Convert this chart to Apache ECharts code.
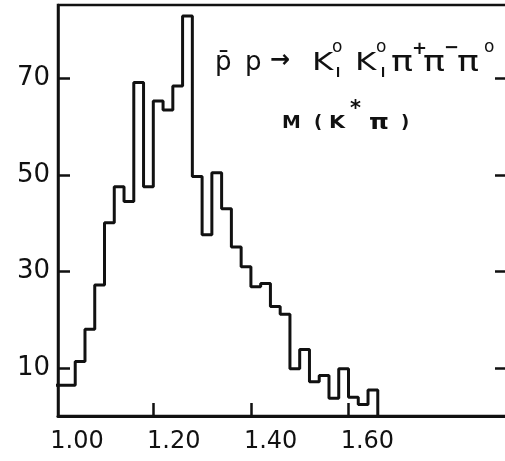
<!DOCTYPE html>
<html><head><meta charset="utf-8">
<script src="https://cdn.jsdelivr.net/npm/echarts@6/dist/echarts.min.js"></script>
<style>html,body{margin:0;padding:0;background:#fff}#c{width:505px;height:461px}</style>
</head><body><div id="c"></div>
<script>
// Histogram of M(K*pi), bins of 0.02 GeV starting at 1.00
const binStart = 1.00;
const binWidth = 0.02;
const counts = [6.4, 6.4, 11.3, 18.0, 27.2, 40.1, 47.6, 44.5, 69.2, 47.6,
  65.4, 63.5, 68.5, 83.0, 49.7, 37.6, 50.5, 43.0, 35.1, 31.0,
  26.8, 27.5, 22.7, 21.1, 9.8, 13.8, 7.1, 8.4, 3.7, 9.8,
  3.9, 2.4, 5.4];
const xTickValues = [1.20, 1.40, 1.60];
const xLabelValues = [1.00, 1.20, 1.40, 1.60];
const yTickValues = [10, 30, 50, 70];

const pts = counts.map((c, i) => [binStart + i * binWidth, c]);
pts.push([binStart + counts.length * binWidth, 0]);

const ink = '#111';
const FONT = '"DejaVu Sans", sans-serif';
function t(text, x, y, size, sx, weight) {
  return { type: 'text', x: x, y: y, scaleX: sx || 1, silent: true,
    style: { text: text, fill: ink, font: (weight || 'normal') + ' ' + size + 'px ' + FONT, verticalAlign: 'middle', align: 'left' } };
}

const chart = echarts.init(document.getElementById('c'), null, { renderer: 'canvas' });
chart.setOption({
  animation: false,
  backgroundColor: '#fff',
  grid: { left: 58, right: -2, top: 5, bottom: 45, show: true, borderColor: ink, borderWidth: 2.5, outerBoundsMode: 'none', containLabel: false },
  xAxis: [
    { type: 'value', min: 1.0047, max: 1.9248, position: 'bottom',
      axisLine: { show: true, onZero: false, lineStyle: { color: ink, width: 3 } },
      axisTick: { show: true, inside: true, length: 13, customValues: xTickValues, lineStyle: { color: ink, width: 2.5 } },
      axisLabel: { show: false }, splitLine: { show: false } },
    { type: 'value', min: 0.9607, max: 1.8884, position: 'bottom',
      axisLine: { show: false }, axisTick: { show: false }, splitLine: { show: false },
      axisLabel: { show: true, customValues: xLabelValues, formatter: v => v.toFixed(2), color: ink, fontSize: 24, fontFamily: 'DejaVu Sans', margin: 14 } }
  ],
  yAxis: [
    { type: 'value', min: 0, max: 85.3, position: 'left',
      axisLine: { show: true, onZero: false, lineStyle: { color: ink, width: 2.5 } },
      axisTick: { show: true, inside: true, length: 12, customValues: yTickValues, lineStyle: { color: ink, width: 2.5 } },
      axisLabel: { show: true, customValues: yTickValues, color: ink, fontSize: 26, fontFamily: 'DejaVu Sans', margin: 8 },
      splitLine: { show: false } },
    { type: 'value', min: 0, max: 85.3, position: 'right',
      axisLine: { show: false },
      axisTick: { show: true, inside: true, length: 12, customValues: yTickValues, lineStyle: { color: ink, width: 2.5 } },
      axisLabel: { show: false }, splitLine: { show: false } }
  ],
  series: [{
    type: 'line', step: 'end', data: pts, xAxisIndex: 0, yAxisIndex: 0,
    showSymbol: false, symbol: 'none', silent: true,
    lineStyle: { color: ink, width: 3 }
  }],
  graphic: [
    t('p̄', 215, 63, 26), t('p', 245, 63, 26), t('→', 270, 61, 24, 1.0, 'bold'),
    t('K', 312, 63, 25, 1.3), t('o', 332, 48, 17), t('l', 336, 74, 12, 1, 'bold'),
    t('K', 355, 63, 25, 1.3), t('o', 376, 48, 17), t('l', 381, 74, 12, 1, 'bold'),
    t('π', 391, 64, 28, 1.3), t('+', 412, 49, 18, 1, 'bold'),
    t('π', 423, 64, 28, 1.3), t('−', 444, 48, 18, 1, 'bold'),
    t('π', 457, 64, 28, 1.3), t('o', 484, 48, 17),
    t('M', 282, 123, 18, 1.05, 'bold'), t('(', 314, 123, 18, 1, 'bold'), t('K', 329, 123, 18, 1.15, 'bold'),
    t('*', 350, 110, 21, 1, 'bold'), t('π', 369, 124, 21, 1.2, 'bold'), t(')', 401, 123, 18, 1, 'bold')
  ]
});
</script></body></html>
